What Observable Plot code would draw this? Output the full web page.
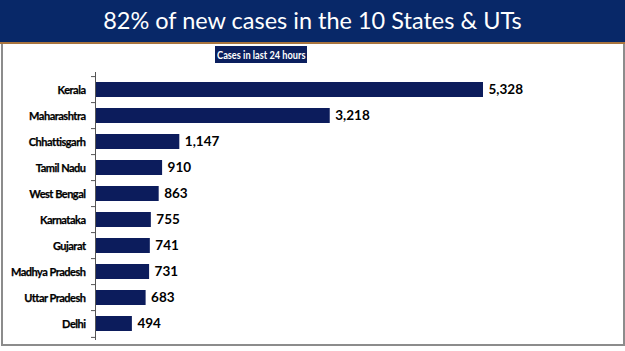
<!DOCTYPE html>
<html>
<head>
<meta charset="utf-8">
<script src="https://cdn.jsdelivr.net/npm/d3@7"></script>
<script src="https://cdn.jsdelivr.net/npm/@observablehq/plot@0.6"></script>
<style>
  html, body { margin: 0; padding: 0; background: #fff; }
  #wrap { position: relative; width: 625px; height: 351px; overflow: hidden; background: #fff; font-family: Lato, "Open Sans", sans-serif; }
  #header { position: absolute; left: 0; top: 0; width: 625px; height: 42px; background: #082868; color: #fff;
            font-family: Lato, sans-serif; font-size: 23.5px; text-align: center; line-height: 40px; white-space: nowrap; }
  #rule { position: absolute; left: 0; top: 42px; width: 625px; height: 1.5px; background: #a8743e; }
  #panel { position: absolute; left: 1px; top: 43px; width: 620px; height: 301px; border-left: 2px solid #8c8c8c; border-right: 2px solid #8c8c8c; border-bottom: 2px solid #8c8c8c; }
  #sub { position: absolute; left: 215px; top: 46px; width: 92px; height: 17px; background: #0b1f5e; color: #fff; overflow: hidden;
         font-family: Lato, sans-serif; font-weight: bold; font-size: 11.5px; line-height: 17px; text-align: center; white-space: nowrap; }
  #sub span { display: inline-block; transform: scaleX(0.8); transform-origin: center; margin: 0 -30px; }
  #chart { position: absolute; left: 0; top: 64px; line-height: 0; }
</style>
</head>
<body>
<div id="wrap">
  <div id="panel"></div>
  <div id="header">82% of new cases in the 10 States &amp; UTs</div>
  <div id="rule"></div>
  <div id="sub"><span>Cases in last 24 hours</span></div>
  <div id="chart"></div>
</div>
<script>
const states = ["Kerala", "Maharashtra", "Chhattisgarh", "Tamil Nadu", "West Bengal", "Karnataka", "Gujarat", "Madhya Pradesh", "Uttar Pradesh", "Delhi"];
const cases = [5328, 3218, 1147, 910, 863, 755, 741, 731, 683, 494];

const data = states.map((s, i) => ({state: s, cases: cases[i]}));
const fmt = d3.format(",");

const H = 287, MT = 8, MB = 11;
const step = (H - MT - MB) / states.length;

const chart = Plot.plot({
  width: 625,
  height: H,
  marginLeft: 96,
  marginRight: 142,
  marginTop: MT,
  marginBottom: MB,
  style: {background: "transparent", fontFamily: "Lato, 'Open Sans', sans-serif", overflow: "visible"},
  x: {domain: [0, 5328], axis: null},
  y: {domain: states, paddingInner: 0.44, paddingOuter: 0.22, axis: null},
  marks: [
    Plot.barX(data, {x: "cases", y: "state", fill: "#0c1c5c"}),
    Plot.text(data, {x: "cases", y: "state", text: d => fmt(d.cases), textAnchor: "start", dx: 5, fontWeight: "bold", fontSize: 13.5, fill: "#000", className: "val"}),
    Plot.text(data, {x: 0, y: "state", text: "state", textAnchor: "end", dx: -11, fontWeight: "bold", fontSize: 11, fill: "#000", stroke: "#000", strokeWidth: 0.25, className: "lab"}),
    Plot.ruleX([0], {stroke: "#555", strokeWidth: 1, dx: -1}),
    Plot.ruleY(states, {y: d => d, x1: -55, x2: 0, dx: -1, dy: -step / 2, stroke: "#555"}),
    Plot.ruleY([states[states.length - 1]], {y: d => d, x1: -55, x2: 0, dx: -1, dy: step / 2, stroke: "#555"})
  ]
});
d3.select(chart).selectAll("g.lab text").style("letter-spacing", "-0.5px");
document.getElementById("chart").appendChild(chart);
</script>
</body>
</html>
